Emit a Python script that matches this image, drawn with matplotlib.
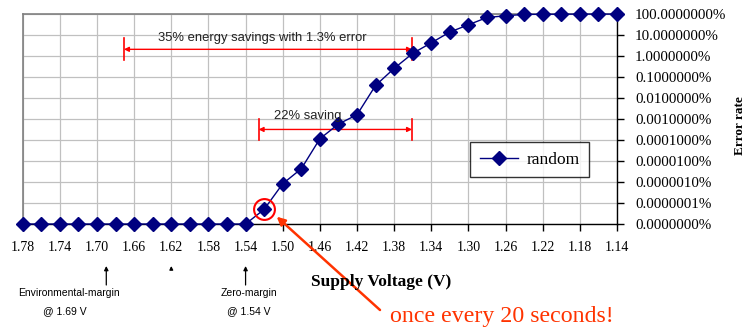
import numpy as np
import matplotlib
matplotlib.use("Agg")
import matplotlib.pyplot as plt
from matplotlib.ticker import FixedLocator, FuncFormatter, NullLocator

# supply voltage (V), one point every 0.02 V
voltage = [1.78, 1.76, 1.74, 1.72, 1.70, 1.68, 1.66, 1.64, 1.62, 1.60, 1.58,
           1.56, 1.54, 1.52, 1.50, 1.48, 1.46, 1.44, 1.42, 1.40, 1.38, 1.36,
           1.34, 1.32, 1.30, 1.28, 1.26, 1.24, 1.22, 1.20, 1.18, 1.16, 1.14]
# error rate (fraction), 0 = no errors seen
error_rate = [0, 0, 0, 0, 0, 0, 0, 0, 0, 0, 0,
              0, 0, 5.0e-10, 8.3e-9, 4.3e-8, 1.15e-6, 5.8e-6, 1.6e-5, 4.0e-4,
              2.6e-3, 1.35e-2, 4.3e-2, 0.14, 0.31, 0.69, 0.83, 0.97, 0.98,
              0.99, 1.0, 1.0, 1.0]
x_ticks = [1.78, 1.74, 1.70, 1.66, 1.62, 1.58, 1.54, 1.50, 1.46, 1.42, 1.38,
           1.34, 1.30, 1.26, 1.22, 1.18, 1.14]
y_floor = 1e-10
y_ticks = [10.0 ** k for k in range(-10, 1)]

navy = "#000080"
red = "#ff0000"
orange = "#ff3300"
serif = "Liberation Serif"
sans = "Liberation Sans"
H = 328  # figure height in pixels, for pixel-placed notes

fig = plt.figure(figsize=(7.47, 3.28), dpi=100)
ax = fig.add_axes([0.0304, 0.317, 0.7956, 0.640])

y = np.maximum(np.array(error_rate, dtype=float), y_floor)
ax.plot(voltage, y, color=navy, lw=1, marker="D", ms=7, mfc=navy, mec=navy,
        label="random", zorder=4, clip_on=False)

ax.set_yscale("log")
ax.set_ylim(y_floor, 1)
ax.set_xlim(1.78, 1.14)
ax.xaxis.set_major_locator(FixedLocator(x_ticks))
ax.yaxis.set_major_locator(FixedLocator(y_ticks))
ax.yaxis.set_minor_locator(NullLocator())
ax.xaxis.set_major_formatter(FuncFormatter(lambda v, p: f"{v:.2f}"))
ax.yaxis.set_major_formatter(FuncFormatter(lambda v, p: f"{v * 100:.7f}%"))
ax.yaxis.tick_right()
ax.tick_params(axis="y", which="both", direction="out", length=5, width=1,
               pad=8, labelsize=10.8)
ax.tick_params(axis="x", direction="out", length=5, width=1, pad=7,
               labelsize=10)
for lab in ax.get_xticklabels() + ax.get_yticklabels():
    lab.set_fontfamily(serif)

ax.grid(True, color="#c0c0c0", lw=0.9)
ax.set_axisbelow(True)
for s in ["top", "left"]:
    ax.spines[s].set_color("#808080")
    ax.spines[s].set_linewidth(1.2)
for s in ["bottom", "right"]:
    ax.spines[s].set_color("black")
    ax.spines[s].set_linewidth(1)

fig.text(381, H - 282, "Supply Voltage (V)", transform=None, fontfamily=serif,
         fontweight="bold", fontsize=12.5, ha="center", va="center")
fig.text(740, H - 126, "Error rate", transform=None, rotation=90,
         fontfamily=serif, fontweight="bold", fontsize=9.5, ha="center",
         va="center")

leg = ax.legend(loc="upper left", bbox_to_anchor=(0.753, 0.39),
                prop={"family": serif, "size": 12.5}, frameon=True,
                fancybox=False, edgecolor="black", handlelength=2.2,
                borderpad=0.55, borderaxespad=0, handletextpad=0.5)
leg.get_frame().set_linewidth(1)

# savings ranges
def span(x0, x1, yv, text, xtext, ytext):
    ax.annotate("", xy=(x0, yv), xytext=(x1, yv),
                arrowprops=dict(arrowstyle="<|-|>", color=red, lw=1,
                                mutation_scale=7, shrinkA=0, shrinkB=0))
    for xv in (x0, x1):
        ax.plot([xv, xv], [yv / 3.3, yv * 3.3], color=red, lw=1.2, zorder=3)
    ax.text(xtext, ytext, text, ha="center", va="center",
            fontfamily=sans, fontsize=9.4, color="#222222", zorder=5)

span(1.671, 1.3607, 0.021, "35% energy savings with 1.3% error", 1.522, 0.075)
span(1.526, 1.3607, 3.2e-6, "22% saving", 1.473, 1.39e-5)

# first error point
ax.plot([1.52], [5.0e-10], marker="o", ms=15, mfc="none", mec=red, mew=1.5,
        zorder=5, clip_on=False)
ax.annotate("", xy=(276.7, H - 216.7), xycoords="figure pixels",
            xytext=(380, H - 310), textcoords="figure pixels",
            arrowprops=dict(arrowstyle="-|>", color=orange, lw=1.8,
                            mutation_scale=12, shrinkA=0, shrinkB=0))
fig.text(390, H - 322, "once every 20 seconds!", transform=None,
         fontfamily=serif, fontsize=17.2, color=orange, ha="left",
         va="baseline")

# margins below the axis
for xv, xt, t1, t2 in [(1.69, 69, "Environmental-margin", "@ 1.69 V"),
                       (1.54, 249, "Zero-margin", "@ 1.54 V")]:
    xp = ax.transData.transform((xv, 1))[0]
    ax.annotate("", xy=(xp, H - 266), xycoords="figure pixels",
                xytext=(xp, H - 285), textcoords="figure pixels",
                arrowprops=dict(arrowstyle="-|>", color="black", lw=0.9,
                                mutation_scale=6, shrinkA=0, shrinkB=0))
    fig.text(xt, H - 293, t1, transform=None, fontfamily=sans,
             fontsize=7.5, ha="center", va="center")
    fig.text(xt - 4 if xv > 1.6 else xt, H - 311, t2, transform=None,
             fontfamily=sans, fontsize=7.5, ha="center", va="center")
xp = ax.transData.transform((1.62, 1))[0]
ax.annotate("", xy=(xp, H - 266), xycoords="figure pixels",
            xytext=(xp, H - 269), textcoords="figure pixels",
            arrowprops=dict(arrowstyle="-|>", color="black", lw=0.9,
                            mutation_scale=5, shrinkA=0, shrinkB=0))

fig.savefig("out.png", dpi=100)
